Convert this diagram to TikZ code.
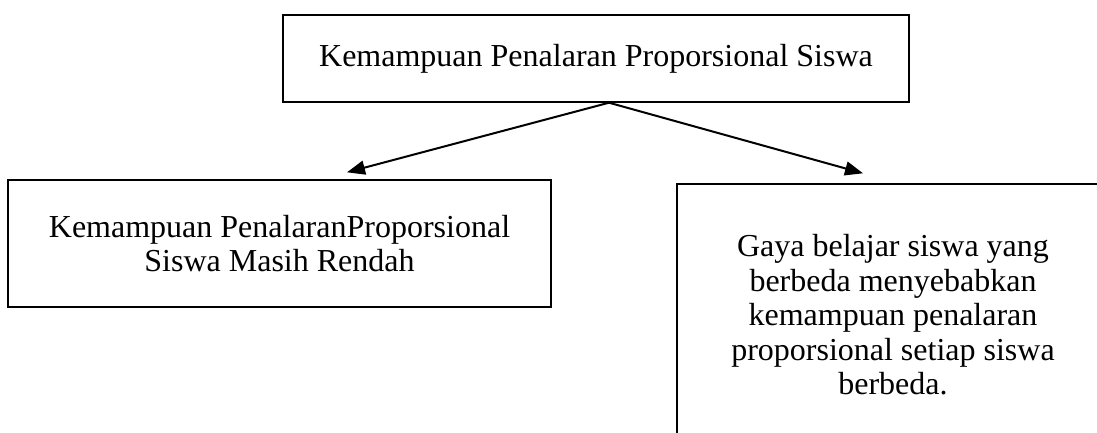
\documentclass[tikz,border=0pt]{standalone}
\usepackage{fontspec}
\setmainfont{Liberation Serif}
\usetikzlibrary{arrows.meta,positioning,calc}

\begin{document}
\begin{tikzpicture}[>={Triangle[length=18pt,width=14pt]},x=1pt,y=-1pt,
    font=\fontsize{32}{34.5}\selectfont]
  \tikzstyle{box}=[rectangle,draw,line width=1.4pt,align=center,inner sep=0pt]
  \tikzstyle{arrow}=[->,line width=2pt]
  \useasboundingbox (0,0) rectangle (1097,432);
  \clip (0,0) rectangle (1097,432);
  \node[box,minimum width=626pt,minimum height=87pt] (kemampuan) at (596,58.5) {Kemampuan Penalaran Proporsional Siswa};
  \node[box,minimum width=543pt,minimum height=127pt] (rendah) at (279.5,243.5) {Kemampuan PenalaranProporsional\\Siswa Masih Rendah};
  \node[box,minimum width=432pt,minimum height=262pt] (gaya) at (893,315) {Gaya belajar siswa yang\\berbeda menyebabkan\\kemampuan penalaran\\proporsional setiap siswa\\berbeda.};
  \coordinate (fork) at ($(kemampuan.south)+(13,0)$);
  \draw[arrow] (fork) -- ($(rendah.north)+(67.5,-7)$);
  \draw[arrow] (fork) -- ($(gaya.north)+(-30,-10)$);
\end{tikzpicture}
\end{document}
